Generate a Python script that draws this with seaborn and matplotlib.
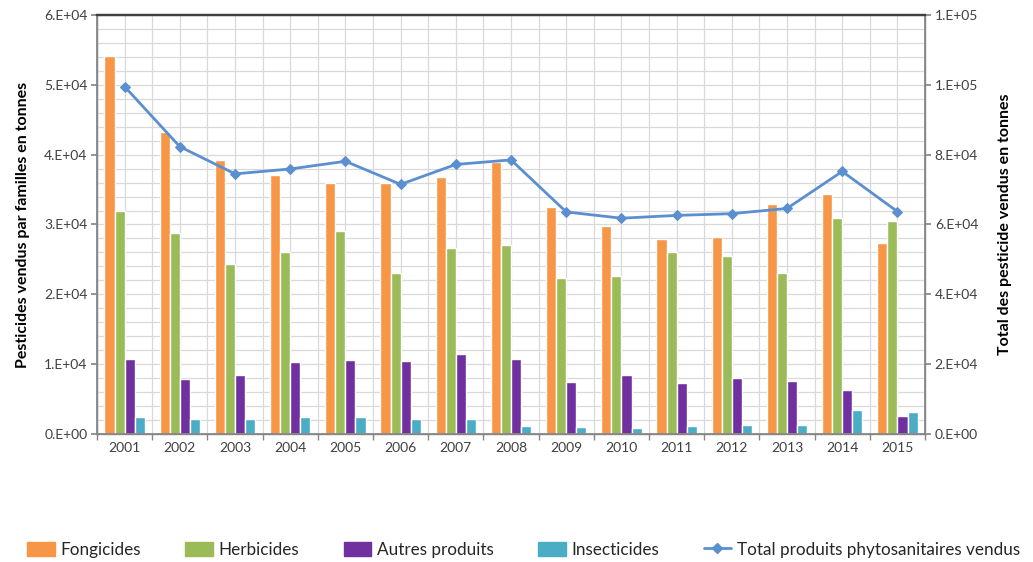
import numpy as np
import pandas as pd
import matplotlib
matplotlib.use("Agg")
import matplotlib.pyplot as plt
import matplotlib.ticker as mticker
from matplotlib.patches import Patch
from matplotlib.lines import Line2D
import seaborn as sns

years = [str(y) for y in range(2001, 2016)]
fongicides = [54100, 43300, 39300, 37100, 35900, 35900, 36800, 38900, 32500, 29800, 27900, 28200, 32900, 34400, 27300]
herbicides = [32000, 28800, 24400, 26000, 29100, 23000, 26700, 27100, 22400, 22600, 26100, 25500, 23000, 30900, 30500]
autres = [10800, 7900, 8500, 10300, 10600, 10400, 11400, 10800, 7400, 8400, 7300, 8000, 7600, 6300, 2600]
insecticides = [2500, 2200, 2100, 2400, 2500, 2100, 2100, 1100, 1000, 900, 1100, 1300, 1300, 3400, 3200]
total = [99500, 82300, 74500, 75900, 78100, 71500, 77200, 78500, 63600, 61800, 62600, 63100, 64600, 75200, 63700]

series_names = ["Fongicides", "Herbicides", "Autres produits", "Insecticides"]
line_name = "Total produits phytosanitaires vendus"
colors = ["#F79646", "#9BBB59", "#7030A0", "#4BACC6"]
line_color = "#5B8FD0"

sns.set_theme(style="white")
plt.rcParams["font.family"] = ["Lato", "DejaVu Sans"]

df = pd.DataFrame({
    "year": years * 4,
    "value": fongicides + herbicides + autres + insecticides,
    "famille": sum([[n] * len(years) for n in series_names], []),
})

fig = plt.figure(figsize=(10.33, 5.62), dpi=100)
ax = fig.add_axes([0.0939, 0.2278, 0.8016, 0.7455])

sns.barplot(data=df, x="year", y="value", hue="famille", order=years,
            hue_order=series_names, palette=colors, width=0.73, gap=0,
            saturation=1, ax=ax, legend=False, zorder=3)

ax.set_xlim(-0.5, len(years) - 0.5)
ax.set_ylim(0, 60000)
ax.yaxis.set_major_locator(mticker.MultipleLocator(10000))
ax.yaxis.set_minor_locator(mticker.MultipleLocator(2000))


def excel_fmt(v, pos=None):
    if v == 0:
        return "0.E+00"
    e = int(np.floor(np.log10(abs(v))))
    m = v / 10 ** e
    return f"{m:.0f}.E+{e:02d}"


ax.yaxis.set_major_formatter(mticker.FuncFormatter(excel_fmt))
ax.xaxis.set_minor_locator(mticker.FixedLocator(np.arange(-0.5, len(years), 1.0)))
ax.grid(True, which="both", color="#D9D9D9", linewidth=0.9, zorder=0)
ax.set_axisbelow(True)
ax.tick_params(axis="y", which="major", length=4, color="#868686", labelsize=10,
               labelcolor="#404040", left=True, pad=3)
ax.tick_params(axis="y", which="minor", length=0)
ax.tick_params(axis="x", which="major", length=0, labelsize=10, labelcolor="#404040", pad=6)
ax.tick_params(axis="x", which="minor", length=4, color="#868686", bottom=True)
ax.set_xlabel("")
ax.set_ylabel("Pesticides vendus par familles en tonnes", fontsize=11.5,
              fontweight="bold", color="black", labelpad=10)
for s in ["left", "bottom", "right"]:
    ax.spines[s].set_color("#868686")
    ax.spines[s].set_linewidth(1)
ax.spines["top"].set_color("#404040")
ax.spines["top"].set_linewidth(1.6)

ax2 = ax.twinx()
ldf = pd.DataFrame({"pos": np.arange(len(years)), "total": total})
sns.lineplot(data=ldf, x="pos", y="total", ax=ax2, color=line_color, linewidth=2,
             marker="D", markersize=5, markeredgecolor=line_color, zorder=5)
ax2.set_ylim(0, 120000)
ax2.set_xlim(-0.5, len(years) - 0.5)
ax2.yaxis.set_major_locator(mticker.MultipleLocator(20000))
ax2.yaxis.set_major_formatter(mticker.FuncFormatter(excel_fmt))
ax2.tick_params(axis="y", length=4, color="#868686", labelsize=10, labelcolor="#404040",
                right=True, pad=3)
ax2.set_xlabel("")
ax2.set_ylabel("Total des pesticide vendus en tonnes", fontsize=11.5,
               fontweight="bold", color="black", labelpad=14)
ax2.grid(False)
for s in ["left", "bottom", "right"]:
    ax2.spines[s].set_color("#868686")
ax2.spines["top"].set_color("#404040")
ax2.spines["top"].set_linewidth(1.6)

handles = [Patch(facecolor=c, edgecolor=c) for c in colors]
handles.append(Line2D([0], [0], color=line_color, linewidth=2, marker="D", markersize=5))
fig.legend(handles, series_names + [line_name], loc="center", ncol=5,
           bbox_to_anchor=(0.507, 0.022), frameon=False, fontsize=12.3,
           handlelength=1.6, handleheight=0.9, handletextpad=0.35, columnspacing=2.6)

fig.savefig("out.png", dpi=100)
